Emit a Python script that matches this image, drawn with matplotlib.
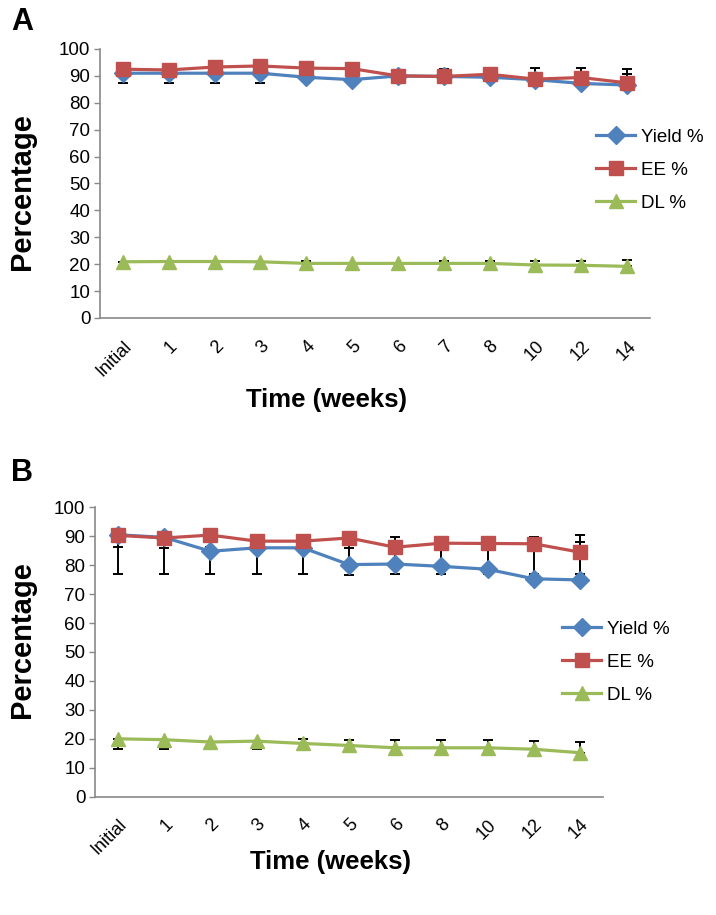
import matplotlib
matplotlib.use("Agg")
from matplotlib import pyplot as plt

# Panel A data
weeks_a = ["Initial", "1", "2", "3", "4", "5", "6", "7", "8", "10", "12", "14"]
yield_a = [91.0, 91.0, 91.0, 91.0, 89.5, 88.6, 90.0, 89.8, 89.5, 88.6, 87.2, 86.6]
ee_a = [92.5, 92.2, 93.3, 93.7, 92.9, 92.7, 90.0, 89.8, 90.6, 88.8, 89.4, 87.4]
dl_a = [20.9, 21.0, 21.0, 20.9, 20.3, 20.3, 20.3, 20.3, 20.3, 19.7, 19.6, 19.2]
yield_a_lo = [3.5, 3.5, 3.5, 3.5, 0, 0, 0, 0, 0, 0, 0, 0]
yield_a_hi = [0, 0, 0, 0, 0, 0, 0, 0, 0, 0, 0, 4.0]
ee_a_lo = [0, 0, 0, 0, 0, 0, 0, 0, 0, 0, 0, 0]
ee_a_hi = [0, 0, 0, 0, 0, 0, 0, 2.9, 0, 4.2, 3.6, 5.1]
dl_a_lo = [0, 0, 0, 0, 0, 0, 0, 0, 0, 0, 0, 0]
dl_a_hi = [0, 0, 0, 0, 0.8, 0, 0, 0.8, 0.8, 1.5, 1.6, 2.4]

# Panel B data
weeks_b = ["Initial", "1", "2", "3", "4", "5", "6", "8", "10", "12", "14"]
yield_b = [90.5, 89.6, 84.8, 86.0, 86.0, 80.2, 80.4, 79.6, 78.6, 75.3, 74.9]
ee_b = [90.3, 89.4, 90.4, 88.3, 88.3, 89.4, 86.2, 87.6, 87.5, 87.4, 84.5]
dl_b = [20.0, 19.7, 18.9, 19.2, 18.4, 17.7, 16.9, 16.9, 16.9, 16.4, 15.2]
yield_b_lo = [4.1, 3.6, 0, 0, 0, 0, 0, 0, 0, 0, 0]
yield_b_hi = [0, 0, 1.6, 0, 0, 5.6, 0, 0, 0, 0, 13.2]
ee_b_lo = [13.5, 12.4, 13.4, 11.3, 11.5, 12.9, 9.2, 10.6, 10.5, 10.4, 7.5]
ee_b_hi = [0, 0, 0, 0, 0, 0, 3.7, 0, 0, 2.5, 5.9]
dl_b_lo = [3.5, 3.2, 2.4, 2.7, 0, 0, 0, 0, 0, 0, 0]
dl_b_hi = [0, 0, 0, 0, 1.5, 2.0, 2.8, 2.8, 2.8, 3.0, 3.8]

plt.rcParams["font.family"] = ["Liberation Sans", "DejaVu Sans"]

BLUE = "#4F81BD"
RED = "#C0504D"
GREEN = "#9BBB59"
GRAY = "#898989"

W, H = 716, 915
fig = plt.figure(figsize=(W / 100, H / 100), dpi=100)


def fx(px):
    return px / W


def fy(py):
    return 1 - py / H


def panel(rect, cats, series, leg_xy):
    ax = fig.add_axes(rect)
    x = list(range(len(cats)))
    for vals, lo, hi, col, mk, ms, name in series:
        ax.errorbar(x, vals, yerr=[lo, hi], fmt="none", ecolor="black",
                    elinewidth=1.4, capsize=3.5, capthick=1.4, zorder=2)
        ax.plot(x, vals, color=col, lw=2.3, marker=mk, markersize=ms,
                markerfacecolor=col, markeredgecolor=col, label=name, zorder=3)
    ax.set_xlim(-0.5, len(cats) - 0.5)
    ax.set_ylim(0, 100)
    ax.set_yticks(range(0, 101, 10))
    ax.set_xticks(x)
    ax.set_xticklabels(cats, rotation=45, ha="right", rotation_mode="anchor",
                       fontsize=13)
    ax.tick_params(axis="x", length=0, pad=14)
    ax.tick_params(axis="y", length=4, width=1, color=GRAY, labelsize=13.5, pad=3)
    for s in ["top", "right"]:
        ax.spines[s].set_visible(False)
    for s in ["left", "bottom"]:
        ax.spines[s].set_color(GRAY)
        ax.spines[s].set_linewidth(1.2)
    ax.legend(loc="center left", bbox_to_anchor=(fx(leg_xy[0]), fy(leg_xy[1])),
              bbox_transform=fig.transFigure, frameon=False, fontsize=13.5,
              handlelength=2.1, handletextpad=0.3, labelspacing=0.85,
              borderpad=0, borderaxespad=0)
    return ax


# Panel A
panel([fx(100), fy(318), fx(650 - 100), (318 - 49) / H], weeks_a,
      [(yield_a, yield_a_lo, yield_a_hi, BLUE, "D", 9, "Yield %"),
       (ee_a, ee_a_lo, ee_a_hi, RED, "s", 10.5, "EE %"),
       (dl_a, dl_a_lo, dl_a_hi, GREEN, "^", 10.5, "DL %")],
      (596, 170))

# Panel B
panel([fx(95), fy(796.7), fx(603 - 95), (796.7 - 507.3) / H], weeks_b,
      [(yield_b, yield_b_lo, yield_b_hi, BLUE, "D", 9, "Yield %"),
       (ee_b, ee_b_lo, ee_b_hi, RED, "s", 10.5, "EE %"),
       (dl_b, dl_b_lo, dl_b_hi, GREEN, "^", 10.5, "DL %")],
      (562, 662))

fig.text(fx(22), fy(192), "Percentage", rotation=90, ha="center", va="center",
         fontsize=21, fontweight="bold")
fig.text(fx(22), fy(640), "Percentage", rotation=90, ha="center", va="center",
         fontsize=21, fontweight="bold")
fig.text(fx(326), fy(400), "Time (weeks)", ha="center", va="center",
         fontsize=18.5, fontweight="bold")
fig.text(fx(330), fy(862), "Time (weeks)", ha="center", va="center",
         fontsize=18.5, fontweight="bold")
fig.text(fx(22), fy(22), "A", ha="center", va="center", fontsize=22,
         fontweight="bold")
fig.text(fx(22), fy(473), "B", ha="center", va="center", fontsize=22,
         fontweight="bold")

fig.savefig("out.png", dpi=100)
